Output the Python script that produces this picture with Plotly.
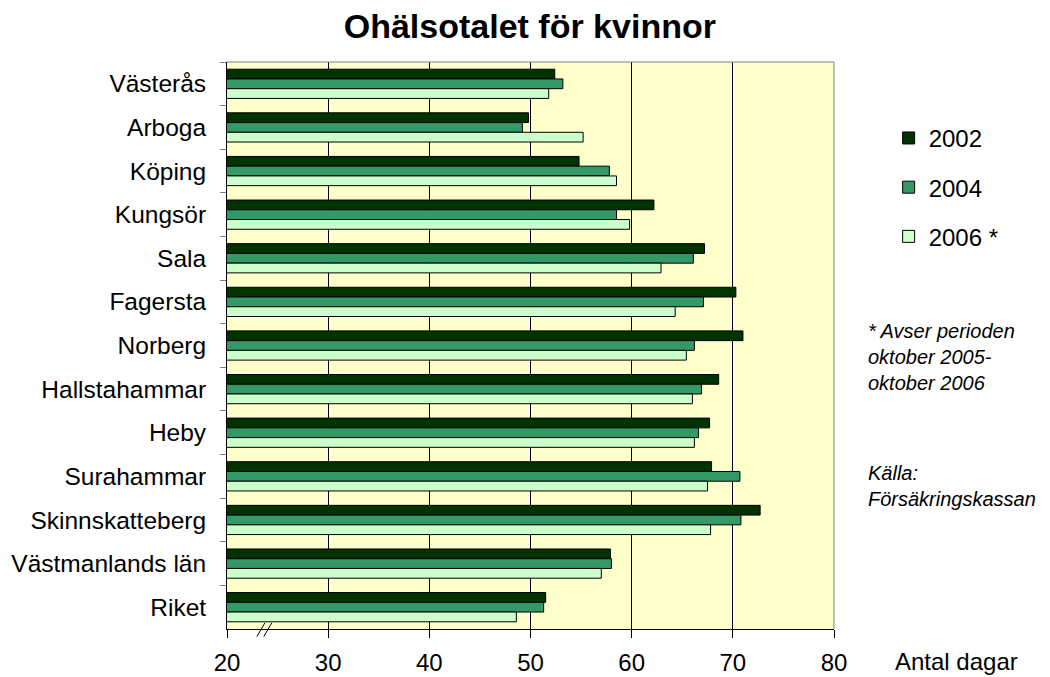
import plotly.graph_objects as go

categories = ["Västerås", "Arboga", "Köping", "Kungsör", "Sala", "Fagersta", "Norberg",
              "Hallstahammar", "Heby", "Surahammar", "Skinnskatteberg", "Västmanlands län", "Riket"]
v2002 = [52.4, 49.8, 54.8, 62.2, 67.2, 70.3, 71.0, 68.6, 67.7, 67.9, 72.7, 57.9, 51.5]
v2004 = [53.2, 49.2, 57.8, 58.5, 66.1, 67.1, 66.2, 66.9, 66.6, 70.7, 70.8, 58.0, 51.3]
v2006 = [51.8, 55.2, 58.5, 59.8, 62.9, 64.3, 65.4, 66.0, 66.2, 67.5, 67.8, 57.0, 48.6]
series = [("2002", v2002, "#003300"), ("2004", v2004, "#339966"), ("2006 *", v2006, "#CCFFCC")]
x_ticks = [20, 30, 40, 50, 60, 70, 80]

FONT = "Liberation Sans, Arial, sans-serif"
L, R, T, B = 219, 224, 54, 56

fig = go.Figure()
for i, (name, vals, col) in enumerate(series):
    fig.add_trace(go.Bar(
        y=categories, x=vals, name=name, orientation="h",
        marker=dict(color=col, line=dict(color="#000000", width=1)),
        legendgroup="g%d" % i,
    ))

fig.update_layout(
    width=1050, height=677,
    paper_bgcolor="white", plot_bgcolor="#FFFFCC",
    margin=dict(l=L, r=R, t=T, b=B, autoexpand=False),
    barmode="group", bargap=0.33, bargroupgap=0,
    font=dict(family=FONT, size=24, color="black"),
    title=dict(text="<b>Ohälsotalet för kvinnor</b>", x=0.497, xanchor="center",
               y=0.9734, yanchor="middle", font=dict(size=34, family=FONT)),
    showlegend=True,
    legend=dict(x=1.09, xanchor="left", y=0.905, yanchor="top",
                font=dict(size=24), tracegroupgap=15, itemwidth=30,
                bgcolor="rgba(0,0,0,0)"),
    xaxis=dict(range=[20, 80], tickvals=x_ticks, ticktext=[str(t) for t in x_ticks],
               showgrid=True, gridcolor="#000000", gridwidth=1, automargin=False,
               showline=True, linecolor="#000000", linewidth=1,
               ticks="outside", ticklen=8, tickcolor="#000000",
               ticklabelstandoff=4, zeroline=False, fixedrange=True,
               tickfont=dict(size=24)),
    yaxis=dict(autorange="reversed", showline=True, linecolor="#000000", linewidth=1,
               ticks="outside", ticklen=6, tickcolor="#808080", tickson="boundaries",
               ticklabelstandoff=15, showgrid=False, fixedrange=True, automargin=False,
               tickfont=dict(size=24.5)),
)

# plot area border (top/right)
fig.add_shape(type="line", xref="paper", yref="paper", x0=0, x1=1, y0=1, y1=1,
              line=dict(color="#808080", width=1))
fig.add_shape(type="line", xref="paper", yref="paper", x0=1, x1=1, y0=0, y1=1,
              line=dict(color="#808080", width=1))
# axis break marks
for dx in (0, 0.68):
    fig.add_shape(type="line", xref="x", yref="paper", x0=22.95 + dx, x1=23.75 + dx,
                  y0=-0.0136, y1=0.011, line=dict(color="#000000", width=1))

fig.add_annotation(text="Antal dagar", xref="paper", yref="paper", x=1.097, xanchor="left",
                   y=-0.0582, yanchor="middle", showarrow=False, font=dict(size=24))
fig.add_annotation(text="<i>* Avser perioden<br>oktober 2005-<br>oktober 2006</i>",
                   xref="paper", yref="paper", x=1.052, xanchor="left", y=0.48, yanchor="middle",
                   align="left", showarrow=False, font=dict(size=20))
fig.add_annotation(text="<i>Källa:<br>Försäkringskassan</i>",
                   xref="paper", yref="paper", x=1.052, xanchor="left", y=0.252, yanchor="middle",
                   align="left", showarrow=False, font=dict(size=20))

fig.write_html("out.html")
